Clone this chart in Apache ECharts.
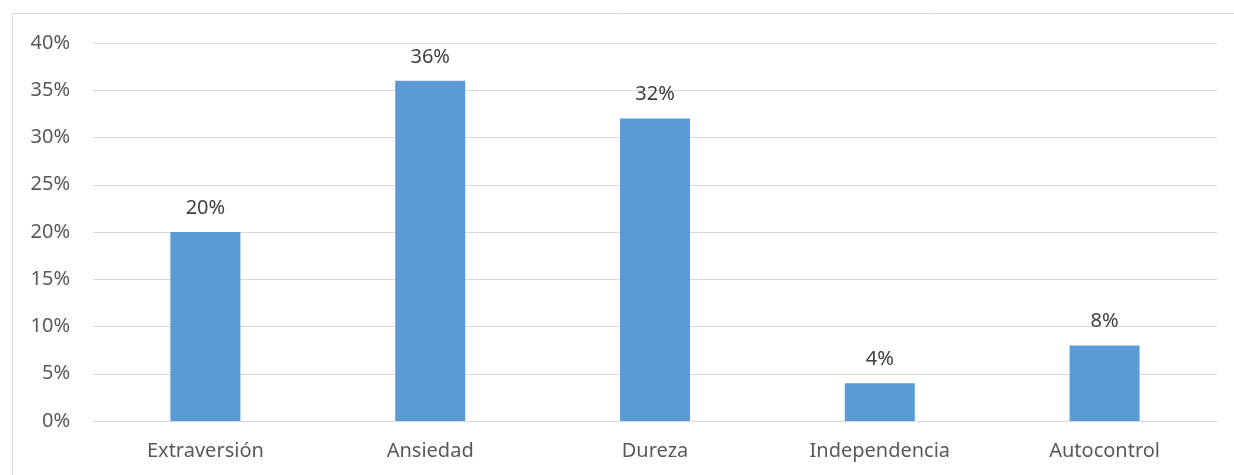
<!DOCTYPE html>
<html><head><meta charset="utf-8">
<script src="https://cdn.jsdelivr.net/npm/echarts@6/dist/echarts.min.js"></script>
<style>html,body{margin:0;padding:0;background:#fff}#c{width:1234px;height:475px}</style>
</head><body><div id="c"></div>
<script>
const categories = ['Extraversión','Ansiedad','Dureza','Independencia','Autocontrol'];
const values = [20, 36, 32, 4, 8];
const yTicks = [0,5,10,15,20,25,30,35,40];
const chart = echarts.init(document.getElementById('c'), null, {renderer:'canvas'});
const font = 'Noto Sans';
chart.setOption({
  animation:false,
  graphic:[{type:'rect',shape:{x:12.5,y:13.5,width:1240,height:480},style:{fill:'none',stroke:'#d9d9d9',lineWidth:1},silent:true}],
  grid:{left:93,right:17,top:43,bottom:54,containLabel:false},
  xAxis:{type:'category',data:categories,
    axisLine:{show:true,lineStyle:{color:'#d9d9d9',width:1}},axisTick:{show:false},
    axisLabel:{color:'#595959',fontFamily:font,fontSize:20,margin:20}},
  yAxis:{type:'value',min:yTicks[0],max:yTicks[yTicks.length-1],interval:5,
    axisLine:{show:false},axisTick:{show:false},
    splitLine:{lineStyle:{color:'#d9d9d9',width:1}},
    axisLabel:{color:'#595959',fontFamily:font,fontSize:20,margin:23,formatter:v=>v+'%'}},
  series:[{type:'bar',data:values,barWidth:70,itemStyle:{color:'#5b9bd5'},
    label:{show:true,position:'top',distance:14,color:'#404040',fontFamily:font,fontSize:20,formatter:p=>p.value+'%'}}]
});
</script></body></html>
